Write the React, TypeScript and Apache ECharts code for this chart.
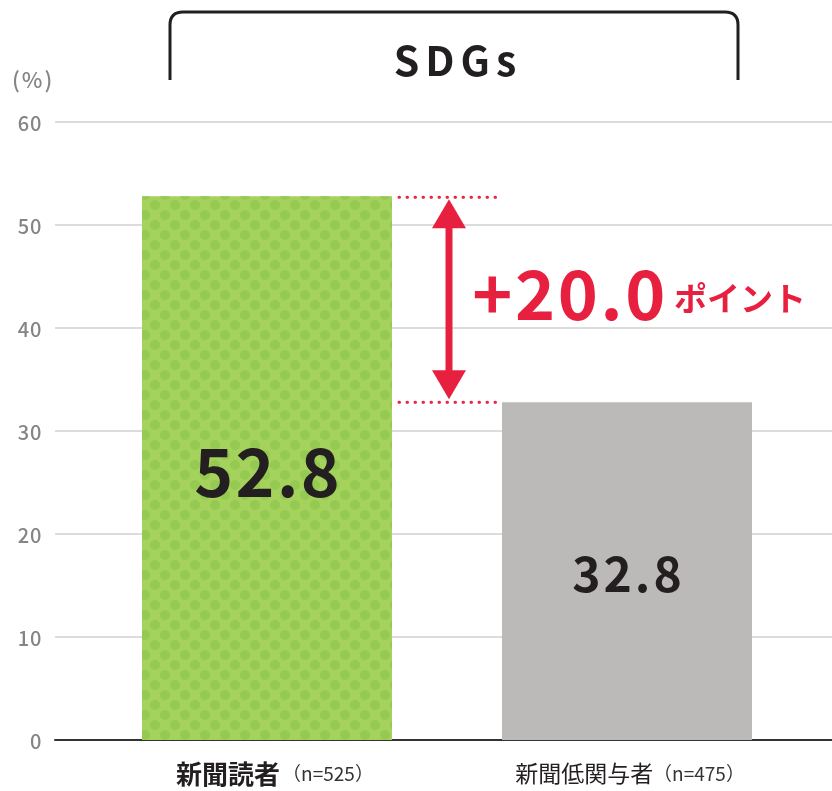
import React, { useEffect, useRef } from "react";
import * as echarts from "echarts";

const categories = ["新聞読者", "新聞低関与者"];
const sampleSizes = [525, 475];
const values = [52.8, 32.8];
const yTicks = { min: 0, max: 60, interval: 10 };
const titleText = "SDGs";
const unitText = "(%)";
const pointText = "ポイント";

const RED = "#e8203f";
const DARK = "#231f20";
const FONT = '"Noto Sans CJK JP", "Noto Sans", sans-serif';

echarts.graphic.registerShape(
  "bracket",
  echarts.graphic.extendPath("M0 68 L0 13 Q0 0 13 0 L555 0 Q568 0 568 13 L568 68", {})
);

// emulate letter spacing with per-character rich tokens
const spaced = (text: string, key: string) =>
  text
    .split("")
    .map((c) => `{${key}|${c}}`)
    .join("");

export default function App() {
  const ref = useRef<HTMLDivElement>(null);
  useEffect(() => {
    if (!ref.current) return;
    const chart = echarts.init(ref.current, null, { renderer: "svg" });
    const barWidth = 250;
    const option: any = {
      animation: false,
      textStyle: { fontFamily: FONT },
      grid: [
        { left: 55, right: 0, top: 122, bottom: 51 },
        { left: 87, right: 25, top: 122, bottom: 51 },
      ],
      xAxis: [
        {
          gridIndex: 0,
          type: "category",
          data: categories,
          axisLine: { show: true, lineStyle: { color: "#333333", width: 2 } },
          axisTick: { show: false },
          axisLabel: { show: false },
        },
        {
          gridIndex: 1,
          type: "category",
          data: categories,
          axisLine: { show: false },
          axisTick: { show: false },
          axisLabel: {
            margin: 19,
            overflow: "none",
            formatter: (v: string, i: number) =>
              (i === 0 ? `{a|${v}}` : `{b|${v}}`) + `{n|（n=${sampleSizes[i]}）}`,
            rich: {
              a: { fontFamily: FONT, fontSize: 26, lineHeight: 26, fontWeight: "bold", color: DARK, padding: [0, 2, 0, 16] },
              b: { fontFamily: FONT, fontSize: 23, lineHeight: 26, color: DARK, padding: [0, 0, 0, 6] },
              n: { fontFamily: FONT, fontSize: 19, lineHeight: 26, color: "#333333" },
            },
          },
        },
      ],
      yAxis: [
        {
          gridIndex: 0,
          type: "value",
          min: yTicks.min,
          max: yTicks.max,
          interval: yTicks.interval,
          axisLine: { show: false },
          axisTick: { show: false },
          axisLabel: {
            margin: 13,
            formatter: (v: number) => spaced(String(v), "t"),
            rich: {
              t: { fontSize: 20, color: "#858585", fontFamily: FONT, fontWeight: 500, padding: [0, 0.5, 0, 0.5] },
            },
          },
          splitLine: { lineStyle: { color: "#dcdcdc", width: 2 } },
        },
        {
          gridIndex: 1,
          type: "value",
          min: yTicks.min,
          max: yTicks.max,
          interval: yTicks.interval,
          show: false,
          splitLine: { show: false },
        },
      ],
      series: [
        {
          type: "bar",
          xAxisIndex: 1,
          yAxisIndex: 1,
          barWidth,
          data: values.map((v, i) => ({
            value: v,
            itemStyle:
              i === 0
                ? {
                    color: "#a5d15d",
                    decal: {
                      symbol: "circle",
                      symbolSize: 1,
                      color: "#94c952",
                      dashArrayX: [[10, 10], [0, 10, 10, 0]],
                      dashArrayY: [10, 0],
                      rotation: 0,
                    },
                  }
                : { color: "#bcb9b9" },
            label: {
              show: true,
              position: "inside",
              formatter: (p: any) => spaced(p.value.toFixed(1), "v"),
              rich: {
                v: {
                  fontFamily: FONT,
                  fontWeight: "bold",
                  fontSize: i === 0 ? 66 : 48,
                  color: DARK,
                  padding: i === 0 ? [0, 1.2, 0, 1.2] : [0, 1.5, 0, 1.5],
                },
              },
            },
          })),
        },
      ],
    };
    chart.setOption(option);

    const cx0 = chart.convertToPixel({ xAxisIndex: 1 }, 0) as number;
    const cx1 = chart.convertToPixel({ xAxisIndex: 1 }, 1) as number;
    const yHi = chart.convertToPixel({ yAxisIndex: 1 }, values[0]) as number;
    const yLo = chart.convertToPixel({ yAxisIndex: 1 }, values[1]) as number;
    const dotL = cx0 + barWidth / 2 + 7;
    const dotR = cx1 - barWidth / 2 - 6;
    const ax = 449;
    const headH = 29;
    const headW = 17;
    const diff = (values[0] - values[1]).toFixed(1);

    chart.setOption({
      graphic: [
        {
          type: "bracket",
          x: 170,
          y: 12,
          style: { stroke: DARK, lineWidth: 3, fill: "none" },
        },
        {
          type: "text",
          x: 455,
          y: 58,
          style: {
            text: spaced(titleText, "t"),
            rich: {
              t: { font: `bold 41px ${FONT}`, fill: DARK, padding: [0, 3, 0, 3] },
            },
            align: "center",
            verticalAlign: "middle",
          },
        },
        {
          type: "text",
          x: 11,
          y: 78,
          style: {
            text: spaced(unitText, "u"),
            rich: {
              u: { font: `500 22px ${FONT}`, fill: "#858585", padding: [0, 1, 0, 1] },
            },
            align: "left",
            verticalAlign: "middle",
          },
        },
        {
          type: "line",
          shape: { x1: dotL, y1: yHi + 1, x2: dotR, y2: yHi + 1 },
          style: { stroke: RED, lineWidth: 3, lineDash: [0.5, 7.5], lineCap: "round" },
        },
        {
          type: "line",
          shape: { x1: dotL, y1: yLo, x2: dotR, y2: yLo },
          style: { stroke: RED, lineWidth: 3, lineDash: [0.5, 7.5], lineCap: "round" },
        },
        {
          type: "line",
          shape: { x1: ax, y1: yHi + 4 + headH - 2, x2: ax, y2: yLo - 4 - headH + 2 },
          style: { stroke: RED, lineWidth: 7 },
        },
        {
          type: "polygon",
          shape: { points: [[ax, yHi + 3], [ax - headW, yHi + 3 + headH], [ax + headW, yHi + 3 + headH]] },
          style: { fill: RED },
        },
        {
          type: "polygon",
          shape: { points: [[ax, yLo - 3], [ax - headW, yLo - 3 - headH], [ax + headW, yLo - 3 - headH]] },
          style: { fill: RED },
        },
        {
          type: "text",
          x: 471,
          y: 290,
          style: {
            text: spaced(`+${diff}`, "p"),
            rich: {
              p: { font: `bold 68px ${FONT}`, fill: RED, padding: [0, 1.3, 0, 1.3] },
            },
            align: "left",
            verticalAlign: "middle",
          },
        },
        {
          type: "text",
          x: 674,
          y: 297,
          style: {
            text: pointText,
            font: `bold 33px ${FONT}`,
            fill: RED,
            align: "left",
            verticalAlign: "middle",
          },
        },
      ],
    });

    return () => chart.dispose();
  }, []);
  return (
    <div
      ref={ref}
      style={{ position: "fixed", left: 0, top: 0, width: 832, height: 791 }}
    />
  );
}
